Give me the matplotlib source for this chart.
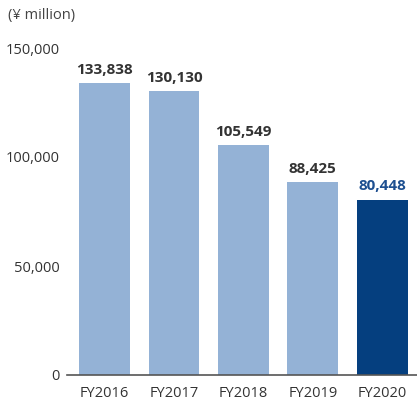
import matplotlib
matplotlib.use("Agg")
import matplotlib.pyplot as plt

categories = ["FY2016", "FY2017", "FY2018", "FY2019", "FY2020"]
values = [133838, 130130, 105549, 88425, 80448]
yticks = [0, 50000, 100000, 150000]
ytick_labels = ["0", "50,000", "100,000", "150,000"]

W, H = 417, 403
fig = plt.figure(figsize=(W/100, H/100), dpi=100)
plt.rcParams['font.family'] = ['Open Sans', 'DejaVu Sans']
ax = fig.add_axes([67/W, 1-375/H, 350/W, 327/H])

light = "#94b2d6"
dark = "#053f7f"
colors = [light]*4 + [dark]
x = list(range(len(categories)))
bars = ax.bar(x, values, width=0.73, color=colors)
for i, (b, v) in enumerate(zip(bars, values)):
    ax.annotate(f"{v:,}", (b.get_x()+b.get_width()/2, v), xytext=(0, 4.5),
                textcoords="offset points", ha="center", va="bottom",
                fontsize=11, fontweight="bold",
                color=("#1d4f90" if i == 4 else "#333333"), clip_on=False)

ax.set_xlim(-0.54, 4.5)
ax.set_ylim(0, 150000)
ax.set_xticks(x)
ax.set_xticklabels(categories, fontsize=10.5, color="#333333")
ax.set_yticks(yticks)
ax.set_yticklabels(ytick_labels, fontsize=10.5, color="#333333")
ax.tick_params(axis="y", length=0, pad=5)
ax.tick_params(axis="x", length=0, pad=8)
for s in ["top", "right", "left"]:
    ax.spines[s].set_visible(False)
ax.spines["bottom"].set_color("#555555")
ax.spines["bottom"].set_linewidth(1.2)
fig.text(8/W, 1-16/H, "(¥ million)", fontsize=10.5, color="#444444", va="center", ha="left")
fig.savefig("out.png", dpi=100)
